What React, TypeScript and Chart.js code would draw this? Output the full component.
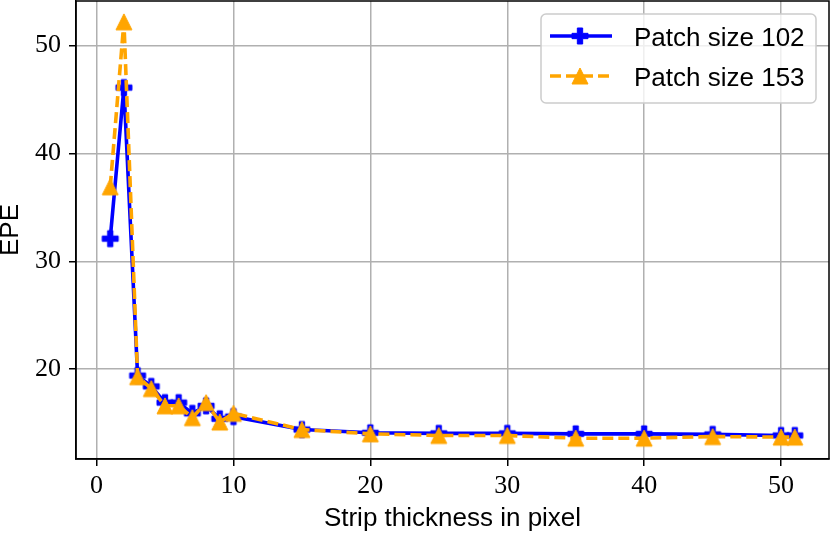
import { useEffect, useRef } from "react";
import { Chart, registerables } from "chart.js";

Chart.register(...registerables);

// strip thickness (px) and EPE readings for the two patch sizes
const thickness = [1, 2, 3, 4, 5, 6, 7, 8, 9, 10, 15, 20, 25, 30, 35, 40, 45, 50, 51];
const epePatch102 = [32.1, 46.1, 19.4, 18.4, 16.9, 16.9, 15.9, 16.6, 15.4, 15.6, 14.4, 14.1, 14.05, 14.05, 14.0, 14.0, 13.95, 13.85, 13.85];
const epePatch153 = [36.9, 52.2, 19.3, 18.2, 16.6, 16.6, 15.5, 16.9, 15.1, 15.9, 14.4, 14.0, 13.85, 13.85, 13.6, 13.6, 13.75, 13.7, 13.7];
const seriesLabels = ["Patch size 102", "Patch size 153"];
const xTicks = [0, 10, 20, 30, 40, 50];
const yTicks = [20, 30, 40, 50];

const BLUE = "#0000ff";
const ORANGE = "#ffa500";
const SANS = "'Liberation Sans', Arial, sans-serif";
const SERIF = "'Liberation Serif', 'Times New Roman', serif";
const LINE_W = 3.6;

// matplotlib-like axis limits (5% margins)
function padded(values: number[]) {
  const lo = Math.min(...values);
  const hi = Math.max(...values);
  const m = (hi - lo) * 0.05;
  return [lo - m, hi + m];
}

// filled plus ("P") and triangle ("^") markers, centred on their bounding box
function markerCanvas(kind: "plus" | "triangle", color: string, size = 16) {
  const c = document.createElement("canvas");
  const dim = size + 4;
  c.width = dim;
  c.height = dim;
  const ctx = c.getContext("2d")!;
  const m = dim / 2;
  const h = size / 2;
  ctx.beginPath();
  if (kind === "plus") {
    const a = size / 6;
    ctx.moveTo(m - a, m - h);
    ctx.lineTo(m + a, m - h);
    ctx.lineTo(m + a, m - a);
    ctx.lineTo(m + h, m - a);
    ctx.lineTo(m + h, m + a);
    ctx.lineTo(m + a, m + a);
    ctx.lineTo(m + a, m + h);
    ctx.lineTo(m - a, m + h);
    ctx.lineTo(m - a, m + a);
    ctx.lineTo(m - h, m + a);
    ctx.lineTo(m - h, m - a);
    ctx.lineTo(m - a, m - a);
  } else {
    ctx.moveTo(m, m - h);
    ctx.lineTo(m + h, m + h);
    ctx.lineTo(m - h, m + h);
  }
  ctx.closePath();
  ctx.fillStyle = color;
  ctx.fill();
  ctx.strokeStyle = color;
  ctx.lineWidth = 1;
  ctx.stroke();
  return c;
}

export default function App() {
  const chartRef = useRef<HTMLCanvasElement>(null);
  const chartInstance = useRef<Chart | null>(null);

  useEffect(() => {
    document.body.style.margin = "0";
    if (!chartRef.current) return;
    if (chartInstance.current) chartInstance.current.destroy();
    const ctx = chartRef.current.getContext("2d");
    if (!ctx) return;

    const plusMarker = markerCanvas("plus", BLUE);
    const triMarker = markerCanvas("triangle", ORANGE);
    const [xMin, xMax] = padded(thickness);
    const [yMin, yMax] = padded([...epePatch102, ...epePatch153]);

    // frame on all four sides + matplotlib style legend inside the axes
    const frameLegend = {
      id: "frameLegend",
      afterDraw(chart: Chart) {
        const c = chart.ctx;
        const a = chart.chartArea;
        c.save();
        c.strokeStyle = "#000";
        c.lineWidth = 1.5;
        c.strokeRect(a.left, a.top, a.right - a.left, a.bottom - a.top);

        const bw = 275;
        const bh = 89;
        const bx = a.right - 13 - bw;
        const by = a.top + 13;
        c.beginPath();
        c.roundRect(bx, by, bw, bh, 5);
        c.fillStyle = "rgba(255,255,255,0.8)";
        c.fill();
        c.strokeStyle = "#cccccc";
        c.lineWidth = 1.5;
        c.stroke();

        const rows = [
          { label: seriesLabels[0], color: BLUE, dash: [] as number[], marker: plusMarker },
          { label: seriesLabels[1], color: ORANGE, dash: [11, 5], marker: triMarker },
        ];
        rows.forEach((r, i) => {
          const y = by + 22 + i * 40;
          c.beginPath();
          c.setLineDash(r.dash);
          c.strokeStyle = r.color;
          c.lineWidth = LINE_W;
          c.moveTo(bx + 9, y);
          c.lineTo(bx + 71, y);
          c.stroke();
          c.setLineDash([]);
          c.drawImage(r.marker, bx + 39 - r.marker.width / 2, y - r.marker.height / 2);
          c.fillStyle = "#000";
          c.font = `26px ${SANS}`;
          c.textBaseline = "alphabetic";
          c.textAlign = "left";
          c.fillText(r.label, bx + 93, y + 10);
        });
        c.restore();
      },
    };

    chartInstance.current = new Chart(ctx, {
      type: "line",
      data: {
        datasets: [
          {
            label: seriesLabels[0],
            data: thickness.map((x, i) => ({ x, y: epePatch102[i] })),
            borderColor: BLUE,
            backgroundColor: BLUE,
            borderWidth: LINE_W,
            borderJoinStyle: "round",
            pointStyle: plusMarker,
            pointRadius: 8,
            tension: 0,
            order: 1,
          },
          {
            label: seriesLabels[1],
            data: thickness.map((x, i) => ({ x, y: epePatch153[i] })),
            borderColor: ORANGE,
            backgroundColor: ORANGE,
            borderWidth: LINE_W,
            borderDash: [11, 5],
            borderJoinStyle: "round",
            pointStyle: triMarker,
            pointRadius: 8,
            tension: 0,
            order: 0,
          },
        ],
      },
      options: {
        responsive: false,
        animation: false,
        layout: { autoPadding: false, padding: { top: 1, right: 1, left: 0, bottom: 0 } },
        plugins: {
          legend: { display: false },
          tooltip: { enabled: false },
        },
        scales: {
          x: {
            type: "linear",
            min: xMin,
            max: xMax,
            afterBuildTicks: (s: any) => {
              s.ticks = xTicks.map((v) => ({ value: v }));
            },
            afterFit: (s: any) => {
              s.height = 74;
              s.paddingLeft = 0;
              s.paddingRight = 0;
            },
            grid: { color: "#b0b0b0", lineWidth: 1.5, tickColor: "#000", tickLength: 7, tickWidth: 1.5 },
            border: { color: "#000", width: 1.5 },
            ticks: { font: { family: SERIF, size: 26 }, color: "#000", padding: 5, maxRotation: 0, autoSkip: false },
            title: {
              display: true,
              text: "Strip thickness in pixel",
              color: "#000",
              font: { family: SANS, size: 26, lineHeight: 1 },
              padding: { top: 0, bottom: 1 },
            },
          },
          y: {
            type: "linear",
            min: yMin,
            max: yMax,
            afterBuildTicks: (s: any) => {
              s.ticks = yTicks.map((v) => ({ value: v }));
            },
            afterFit: (s: any) => {
              s.width = 76;
              s.paddingTop = 0;
              s.paddingBottom = 0;
            },
            grid: { color: "#b0b0b0", lineWidth: 1.5, tickColor: "#000", tickLength: 7, tickWidth: 1.5 },
            border: { color: "#000", width: 1.5 },
            ticks: { font: { family: SERIF, size: 26 }, color: "#000", padding: 8, autoSkip: false },
            title: {
              display: true,
              text: "EPE",
              color: "#000",
              font: { family: SANS, size: 26, lineHeight: 0.85 },
              padding: { top: 0, bottom: 0 },
            },
          },
        },
      },
      plugins: [frameLegend],
    });

    return () => {
      if (chartInstance.current) {
        chartInstance.current.destroy();
        chartInstance.current = null;
      }
    };
  }, []);

  return (
    <div style={{ width: 830, height: 533 }}>
      <canvas ref={chartRef} width={830} height={533} style={{ display: "block" }} />
    </div>
  );
}
